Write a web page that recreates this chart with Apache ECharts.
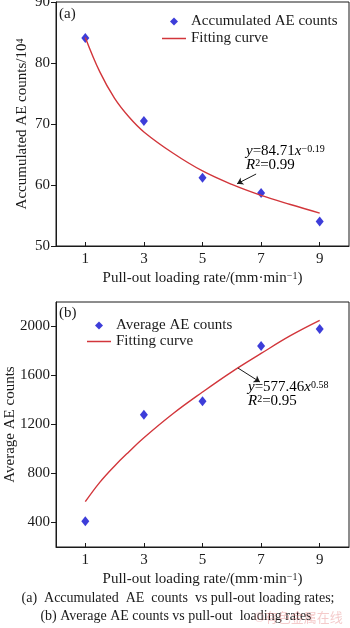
<!DOCTYPE html>
<html>
<head>
<meta charset="utf-8">
<script src="https://cdn.jsdelivr.net/npm/echarts@6/dist/echarts.min.js"></script>
<style>
  html, body { margin: 0; padding: 0; background: #fff; }
  #chart { width: 350px; height: 628px; }
</style>
</head>
<body>
<div id="chart"></div>
<script>
// measured points
const rates = [1, 3, 5, 7, 9]
const accumulated = [84.1, 70.5, 61.2, 58.7, 54.0] // x10^4
const average = [410, 1280, 1390, 1840, 1980]

// fitting curves
const fitX = [1, 1.5, 2, 2.5, 3, 4, 5, 6, 7, 8, 9]
const fitAccumulated = [84.2, 78.5, 74.2, 71.1, 68.7, 65.2, 62.3, 60.1, 58.3, 56.8, 55.4]
const fitAverage = [570, 730, 862, 980, 1092, 1290, 1465, 1630, 1780, 1925, 2050]

// tick labels
const yTicksA = [50, 60, 70, 80, 90]
const yTicksB = [400, 800, 1200, 1600, 2000]

// arrows of the equation notes (data coords)
const arrowA = [[6.83, 61.8], [6.18, 60.2]]
const arrowB = [[6.21, 1661], [6.96, 1547]]

const FONT = "Liberation Serif"
const BLUE = "#0c0cd0"
const RED = "#d2363b"
const INK = "#1a1a1a"

const pairs = (xs, ys) => xs.map((x, i) => [x, ys[i]])

const supRich = {
  i: { fontStyle: "italic", fontFamily: FONT, fontSize: 15, color: INK, lineHeight: 14 },
  n: { fontFamily: FONT, fontSize: 15, color: INK, lineHeight: 14 },
  s: { fontFamily: FONT, fontSize: 10, color: INK, lineHeight: 10, verticalAlign: "top" }
}

function xAxisOf(gridIndex) {
  return {
    type: "value",
    gridIndex: gridIndex,
    min: 0,
    max: 10,
    name: "Pull-out loading rate/(mm·min{s|−1})",
    nameLocation: "middle",
    nameGap: 25,
    nameTextStyle: {
      fontFamily: FONT, fontSize: 15, color: INK,
      rich: { s: { fontFamily: FONT, fontSize: 10, color: INK, verticalAlign: "top", lineHeight: 10 } }
    },
    axisLine: { show: true, lineStyle: { color: INK, width: 1 } },
    axisTick: { show: true, inside: true, length: 4, customValues: rates, lineStyle: { color: INK } },
    axisLabel: { customValues: rates, margin: 6, fontFamily: FONT, fontSize: 15, color: INK },
    splitLine: { show: false }
  }
}

const option = {
  backgroundColor: "#fff",
  animation: false,
  grid: [
    { left: 56, right: 1, top: 2, height: 244, show: true, borderColor: INK, borderWidth: 1, outerBoundsMode: "none", containLabel: false },
    { left: 56, right: 1, top: 302, height: 245, show: true, borderColor: INK, borderWidth: 1, outerBoundsMode: "none", containLabel: false }
  ],
  xAxis: [xAxisOf(0), xAxisOf(1)],
  yAxis: [
    {
      type: "value",
      gridIndex: 0,
      min: 50,
      max: 90,
      interval: 10,
      name: "Accumulated AE counts/10{s|4}",
      nameLocation: "middle",
      nameGap: 26,
      nameMoveOverlap: false,
      nameTextStyle: {
        fontFamily: FONT, fontSize: 15, color: INK,
        rich: { s: { fontFamily: FONT, fontSize: 10, color: INK, verticalAlign: "top", lineHeight: 10 } }
      },
      axisLine: { show: true, lineStyle: { color: INK } },
      axisTick: { show: true, length: 5, customValues: yTicksA, lineStyle: { color: INK } },
      axisLabel: { customValues: yTicksA, margin: 6, fontFamily: FONT, fontSize: 15, color: INK },
      splitLine: { show: false }
    },
    {
      type: "value",
      gridIndex: 1,
      min: 200,
      max: 2200,
      interval: 200,
      name: "Average AE counts",
      nameLocation: "middle",
      nameGap: 38,
      nameMoveOverlap: false,
      nameTextStyle: { fontFamily: FONT, fontSize: 15, color: INK },
      axisLine: { show: true, lineStyle: { color: INK } },
      axisTick: { show: true, length: 5, customValues: yTicksB, lineStyle: { color: INK } },
      axisLabel: {
        customValues: yTicksB, margin: 6, fontFamily: FONT, fontSize: 15, color: INK,
        formatter: (v) => String(v)
      },
      splitLine: { show: false }
    }
  ],
  legend: [
    {
      left: 157, top: 9, orient: "vertical",
      itemWidth: 24, itemHeight: 8, itemGap: 2,
      textStyle: { fontFamily: FONT, fontSize: 15, color: INK, lineHeight: 14 },
      data: [
        { name: "Accumulated AE counts", icon: "path://M5,0 L10,5 L5,10 L0,5 Z" },
        { name: "Fitting curve", icon: "path://M0,0 H24 V1.5 H0 Z" }
      ]
    },
    {
      left: 82, top: 313, orient: "vertical",
      itemWidth: 24, itemHeight: 8, itemGap: 1,
      textStyle: { fontFamily: FONT, fontSize: 15, color: INK, lineHeight: 14 },
      data: [
        { name: "Average AE counts", icon: "path://M5,0 L10,5 L5,10 L0,5 Z" },
        { name: "Fitting curve ", icon: "path://M0,0 H24 V1.5 H0 Z" }
      ]
    }
  ],
  series: [
    {
      name: "Fitting curve",
      type: "line",
      xAxisIndex: 0, yAxisIndex: 0,
      data: pairs(fitX, fitAccumulated),
      smooth: 0.4,
      showSymbol: false,
      lineStyle: { color: RED, width: 1.4 },
      itemStyle: { color: RED },
      markLine: {
        silent: true,
        symbol: ["none", "arrow"],
        symbolSize: 6,
        label: { show: false },
        lineStyle: { color: INK, width: 1, type: "solid" },
        data: [[{ coord: arrowA[0] }, { coord: arrowA[1] }]]
      }
    },
    {
      name: "Accumulated AE counts",
      type: "scatter",
      xAxisIndex: 0, yAxisIndex: 0,
      data: pairs(rates, accumulated),
      symbol: "diamond",
      symbolSize: [8, 10],
      itemStyle: { color: BLUE }
    },
    {
      name: "Fitting curve ",
      type: "line",
      xAxisIndex: 1, yAxisIndex: 1,
      data: pairs(fitX, fitAverage),
      smooth: 0.4,
      showSymbol: false,
      lineStyle: { color: RED, width: 1.4 },
      itemStyle: { color: RED },
      markLine: {
        silent: true,
        symbol: ["none", "arrow"],
        symbolSize: 6,
        label: { show: false },
        lineStyle: { color: INK, width: 1, type: "solid" },
        data: [[{ coord: arrowB[0] }, { coord: arrowB[1] }]]
      }
    },
    {
      name: "Average AE counts",
      type: "scatter",
      xAxisIndex: 1, yAxisIndex: 1,
      data: pairs(rates, average),
      symbol: "diamond",
      symbolSize: [8, 10],
      itemStyle: { color: BLUE }
    }
  ],
  graphic: [
    { type: "text", left: 59, top: 7, style: { text: "(a)", font: "15px 'Liberation Serif'", fill: INK } },
    { type: "text", left: 59, top: 306, style: { text: "(b)", font: "15px 'Liberation Serif'", fill: INK } },
    {
      type: "text", left: 246, top: 144,
      style: { text: "{i|y}{n|=84.71}{i|x}{s|−0.19}\n{i|R}{s|2}{n|=0.99}", rich: supRich }
    },
    {
      type: "text", left: 248, top: 380,
      style: { text: "{i|y}{n|=577.46}{i|x}{s|0.58}\n{i|R}{s|2}{n|=0.95}", rich: supRich }
    },
    {
      type: "text", x: 178, y: 598,
      style: {
        text: "(a)  Accumulated  AE  counts  vs pull-out loading rates;",
        font: "14px 'Liberation Serif'", fill: INK, align: "center", verticalAlign: "middle"
      }
    },
    {
      type: "text", x: 176, y: 616,
      style: {
        text: "(b) Average AE counts vs pull-out  loading rates",
        font: "14px 'Liberation Serif'", fill: INK, align: "center", verticalAlign: "middle"
      }
    },
    {
      type: "text", x: 254, y: 617,
      style: {
        text: "©有色金属在线",
        font: "13px 'Noto Sans CJK SC'", fill: "rgba(230,140,140,0.45)", verticalAlign: "middle"
      }
    }
  ]
}

const myChart = echarts.init(document.getElementById("chart"))
myChart.setOption(option)
</script>
</body>
</html>
